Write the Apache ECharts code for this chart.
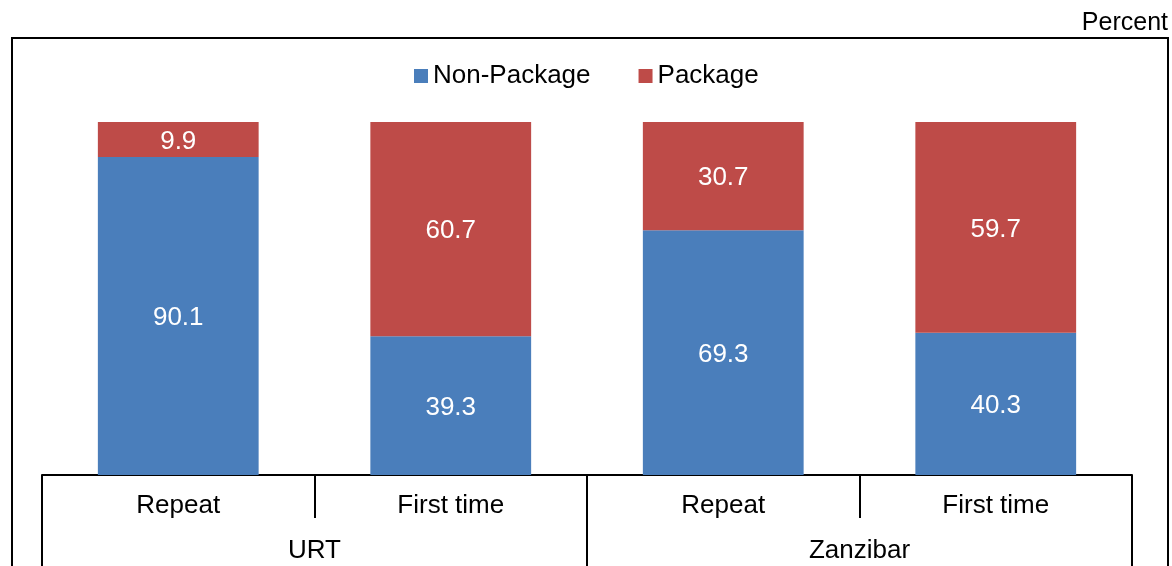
<!DOCTYPE html>
<html>
<head>
<meta charset="utf-8">
<script src="https://cdn.jsdelivr.net/npm/echarts@6/dist/echarts.min.js"></script>
<style>html,body{margin:0;padding:0;background:#fff;}#c{width:1172px;height:566px;}</style>
</head>
<body>
<div id="c"></div>
<script>
const categories = ['Repeat', 'First time', 'Repeat', 'First time'];
const groups = ['URT', 'Zanzibar'];
const nonPackage = [90.1, 39.3, 69.3, 40.3];
const packageVals = [9.9, 60.7, 30.7, 59.7];
const seriesNames = ['Non-Package', 'Package'];
const unitLabel = 'Percent';

const FONT = 'Liberation Sans';
const chart = echarts.init(document.getElementById('c'), null, {renderer: 'canvas'});
const labelStyle = {show: true, position: 'inside', color: '#fff', fontSize: 26, fontFamily: FONT,
  offset: [0, 2], formatter: p => p.value.toFixed(1)};
chart.setOption({
  animation: false,
  textStyle: {fontFamily: FONT},
  graphic: [
    {type: 'rect', shape: {x: 12, y: 38, width: 1156, height: 600}, style: {fill: 'none', stroke: '#000', lineWidth: 2}, silent: true},
    {type: 'text', right: 4, top: 11, style: {text: unitLabel, font: '25px "Liberation Sans"', fill: '#000'}}
  ],
  legend: {
    top: 58, left: 409, itemWidth: 14, itemHeight: 14, itemGap: 48,
    icon: 'rect',
    textStyle: {fontSize: 26, fontFamily: FONT, color: '#000'},
    data: seriesNames
  },
  grid: {left: 42, right: 40, top: 122, bottom: 91, containLabel: false},
  yAxis: {type: 'value', min: 0, max: 100, show: false},
  xAxis: [
    {
      type: 'category', data: categories, position: 'bottom',
      axisLine: {show: true, lineStyle: {color: '#000', width: 2}},
      axisTick: {show: true, interval: 0, length: 43, lineStyle: {color: '#000', width: 2}},
      axisLabel: {interval: 0, margin: 18, fontSize: 26, color: '#000', fontFamily: FONT}
    },
    {
      type: 'category', data: groups, position: 'bottom', offset: 0,
      axisLine: {show: false},
      axisTick: {show: true, interval: 0, length: 100, lineStyle: {color: '#000', width: 2}},
      axisLabel: {interval: 0, margin: 63, fontSize: 26, color: '#000', fontFamily: FONT}
    }
  ],
  series: [
    {name: seriesNames[0], type: 'bar', stack: 'a', data: nonPackage, barWidth: '59%',
      itemStyle: {color: '#4a7ebb'}, label: labelStyle},
    {name: seriesNames[1], type: 'bar', stack: 'a', data: packageVals, barWidth: '59%',
      itemStyle: {color: '#be4b48'}, label: labelStyle}
  ]
});
</script>
</body>
</html>
